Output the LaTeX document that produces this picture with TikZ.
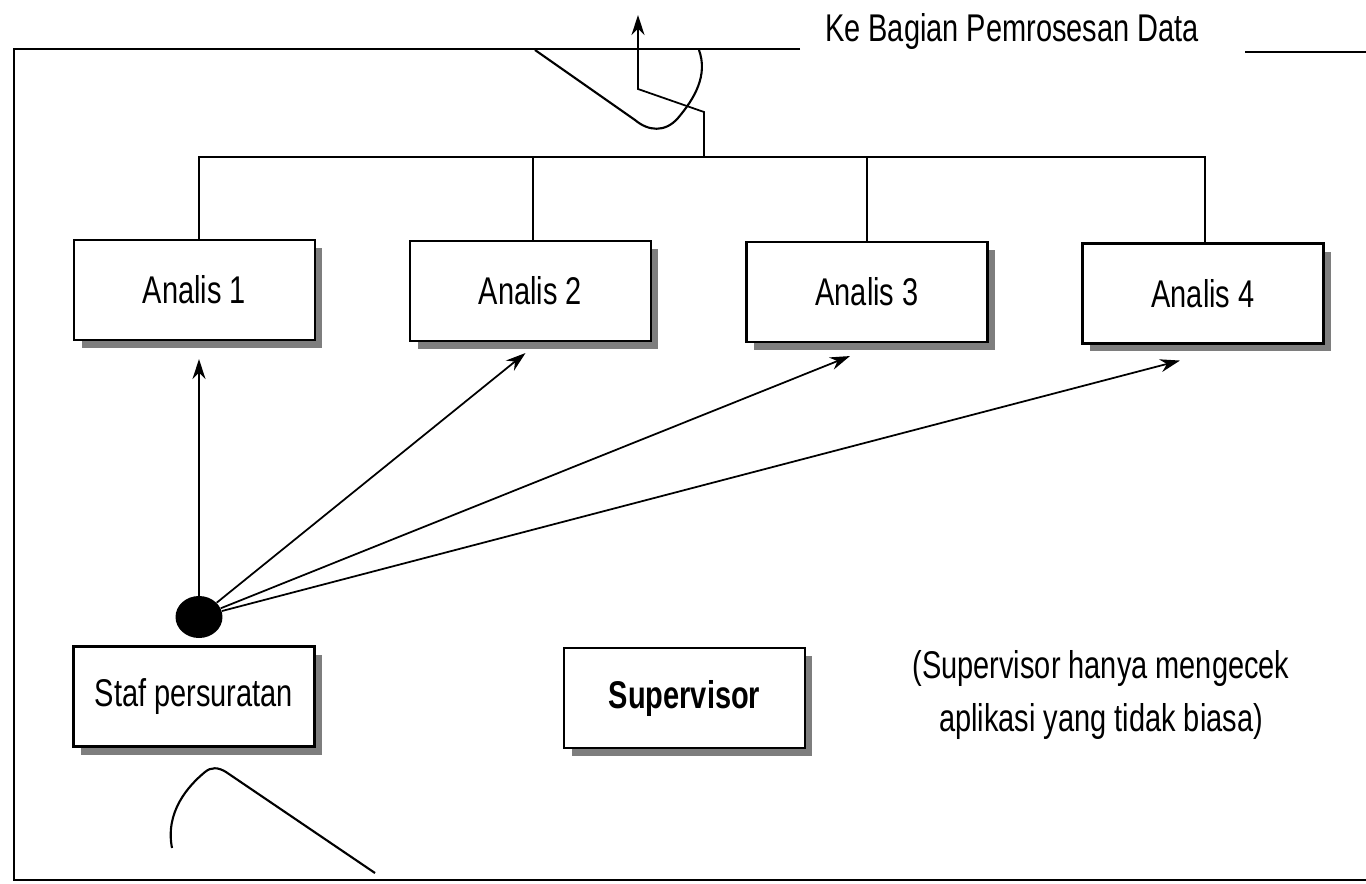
\documentclass[tikz,border=0pt]{standalone}
\usepackage{fontspec}
\setmainfont{Liberation Sans}[FakeStretch=0.75]
\usepackage{tikz}
\usetikzlibrary{calc,arrows.meta,positioning,shapes.geometric,shadows}
\definecolor{shadc}{HTML}{7E7E7E}
\tikzset{
  ar/.style={-{Stealth[length=4mm,width=2.6mm]},line width=1pt},
  ln/.style={line width=1.2pt},
  txt/.style={font=\fontsize{22}{30.6}\selectfont},
  box/.style={draw,line width=1.2pt,fill=white,minimum width=4.82cm,minimum height=2cm,inner sep=0pt,txt,
    drop shadow={shadow xshift=0.15cm,shadow yshift=-0.16cm,fill=shadc,opacity=1}},
  dotnd/.style={ellipse,fill,minimum width=0.94cm,minimum height=0.84cm,inner sep=0pt}
}

\begin{document}
\begin{tikzpicture}[x=0.02cm,y=-0.02cm]
\useasboundingbox (0,0) rectangle (1366,883);
\draw[ln] (800,49) -- (14,49) -- (14,880) -- (1366,880);
\draw[ln] (1245,52) -- (1366,52);
\node[txt] (dest) at (1012,32) {Ke Bagian Pemrosesan Data};

\node[box] (a1) at (194.5,290) {Analis 1};
\node[box] (a2) at (530.5,291) {Analis 2};
\node[box] (a3) at (867,292) {Analis 3};
\node[box] (a4) at (1203,293.5) {Analis 4};
\node[box] (staf) at (194,696.5) {Staf persuratan};
\node[box,font=\fontsize{22}{26}\selectfont\bfseries] (sup) at (684.5,698) {Supervisor};
\node[txt,align=center] (note) at (1101,695) {(Supervisor hanya mengecek\\aplikasi yang tidak biasa)};
\node[dotnd] (dot) at (199,617) {};

\coordinate (bus) at (704,157);
\coordinate (out) at (638,15);
\coordinate (j1) at ($(a1.north)+(4.5,0)$);
\coordinate (j2) at ($(a2.north)+(2.5,0)$);
\coordinate (j4) at ($(a4.north)+(2,0)$);
\draw[ln] (j1) -- (j1 |- bus) -- (j4 |- bus) -- (j4);
\draw[ln] (j2) -- (j2 |- bus);
\draw[ln] (a3.north) -- (a3.north |- bus);
\draw[ar] (bus) -- (704,112) -- (638,89) -- (out);

\coordinate (t1) at ($(a1.south)+(4.5,18)$);
\coordinate (t2) at ($(a2.south)+(-5,11)$);
\coordinate (t3) at ($(a3.south)+(-17,13)$);
\coordinate (t4) at ($(a4.south)+(-23,16)$);
\draw[ar] (dot.north -| t1) -- (t1);
\draw[ar] (dot) -- (t2);
\draw[ar] (dot) -- (t3);
\draw[ar] (dot) -- (t4);

\draw[ln] (535,50) -- (635,120) .. controls (648,131) and (665,133) .. (678,118) .. controls (695,98) and (708,75) .. (699,50);
\draw[ln] (172,848) .. controls (165,812) and (188,786) .. (205,772) .. controls (211,767) and (218,767) .. (226,772) -- (375,873);
\end{tikzpicture}
\end{document}
